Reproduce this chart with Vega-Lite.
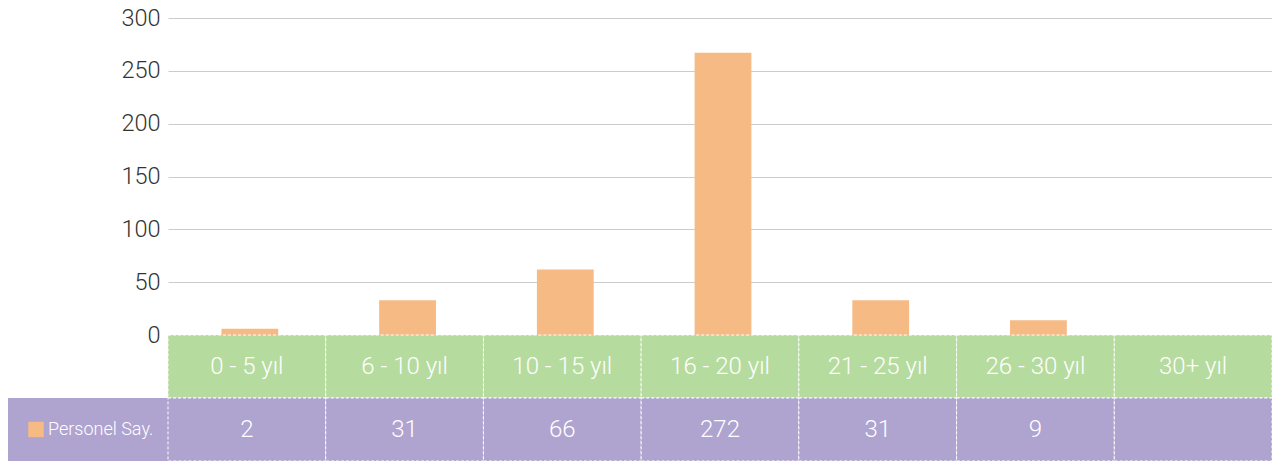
{
  "$schema": "https://vega.github.io/schema/vega-lite/v6.json",
  "padding": {"left": 8, "top": 6, "right": 0, "bottom": 0},
  "spacing": 0,
  "bounds": "flush",
  "columns": 2,
  "config": {
    "view": {"stroke": null},
    "font": "Roboto"
  },
  "datasets": {
    "rows": [
      {"kategori": "0 - 5 yıl", "deger": 6, "etiket": "2"},
      {"kategori": "6 - 10 yıl", "deger": 33, "etiket": "31"},
      {"kategori": "10 - 15 yıl", "deger": 62, "etiket": "66"},
      {"kategori": "16 - 20 yıl", "deger": 267, "etiket": "272"},
      {"kategori": "21 - 25 yıl", "deger": 33, "etiket": "31"},
      {"kategori": "26 - 30 yıl", "deger": 14, "etiket": "9"},
      {"kategori": "30+ yıl", "deger": null, "etiket": ""}
    ],
    "legend": [{"seri": "Personel Say."}]
  },
  "concat": [
    {
      "width": 160, "height": 317,
      "data": {"values": []},
      "mark": "point"
    },
    {
      "width": 1104, "height": 317,
      "data": {"name": "rows"},
      "mark": {"type": "bar", "color": "#F6BA85", "xOffset": 3},
      "encoding": {
        "x": {"field": "kategori", "type": "nominal", "sort": null,
              "scale": {"domain": ["0 - 5 yıl", "6 - 10 yıl", "10 - 15 yıl", "16 - 20 yıl", "21 - 25 yıl", "26 - 30 yıl", "30+ yıl"],
                        "paddingInner": 0.64, "paddingOuter": 0.32},
              "axis": null},
        "y": {"field": "deger", "type": "quantitative",
              "scale": {"domain": [0, 300], "nice": false},
              "axis": {"title": null, "values": [0, 50, 100, 150, 200, 250, 300],
                       "domain": false, "ticks": false, "labelPadding": 8,
                       "labelFontSize": 23.5, "labelColor": "#333333",
                       "labelFont": "Roboto", "labelFontWeight": 300,
                       "gridColor": "#cccccc", "gridWidth": 1}}
      }
    },
    {
      "width": 160, "height": 63,
      "data": {"values": []},
      "mark": "point"
    },
    {
      "width": 1104, "height": 63,
      "data": {"name": "rows"},
      "encoding": {
        "x": {"field": "kategori", "type": "nominal", "sort": null,
              "scale": {"paddingInner": 0, "paddingOuter": 0}, "axis": null}
      },
      "layer": [
        {"mark": {"type": "rect", "color": "#B6DB9E", "stroke": "white", "strokeDash": [3, 2], "strokeWidth": 1}},
        {"mark": {"type": "text", "color": "white", "fontSize": 24, "fontWeight": 300, "font": "Roboto"},
         "encoding": {"text": {"field": "kategori"}}}
      ]
    },
    {
      "width": 160, "height": 63,
      "data": {"name": "legend"},
      "layer": [
        {"mark": {"type": "rect", "color": "#AFA3CF"}, "encoding": {}},
        {"mark": {"type": "square", "color": "#F6BA85", "opacity": 1, "filled": true, "size": 240, "xOffset": -52},
         "encoding": {}},
        {"mark": {"type": "text", "color": "white", "fontSize": 18, "fontWeight": 300, "font": "Roboto", "align": "left", "dx": -40},
         "encoding": {"text": {"field": "seri"}}}
      ]
    },
    {
      "width": 1104, "height": 63,
      "data": {"name": "rows"},
      "encoding": {
        "x": {"field": "kategori", "type": "nominal", "sort": null,
              "scale": {"paddingInner": 0, "paddingOuter": 0}, "axis": null}
      },
      "layer": [
        {"mark": {"type": "rect", "color": "#AFA3CF", "stroke": "white", "strokeDash": [3, 2], "strokeWidth": 1}},
        {"mark": {"type": "text", "color": "white", "fontSize": 24, "fontWeight": 300, "font": "Roboto"},
         "encoding": {"text": {"field": "etiket"}}}
      ]
    }
  ]
}
